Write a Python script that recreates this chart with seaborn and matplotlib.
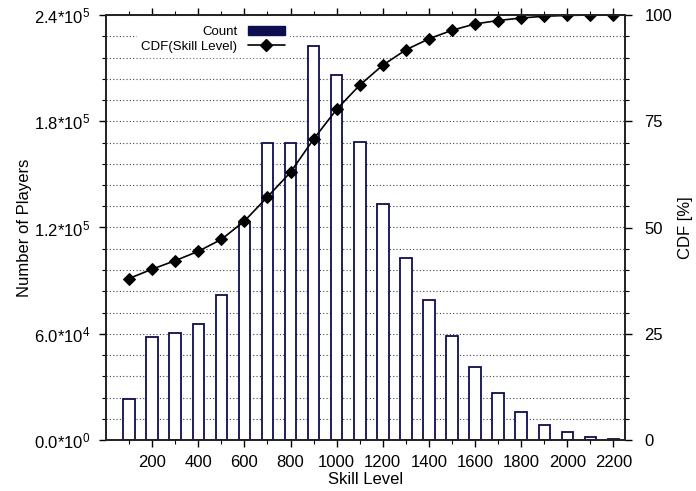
import pandas as pd
import seaborn as sns
import matplotlib.pyplot as plt
from matplotlib.ticker import MultipleLocator, FixedLocator, FuncFormatter
from matplotlib.patches import Patch
from matplotlib.lines import Line2D

sns.set_theme(style="white")
plt.rcParams['font.family'] = ['Liberation Sans', 'DejaVu Sans']
plt.rcParams['mathtext.fontset'] = 'custom'
plt.rcParams['mathtext.rm'] = 'Liberation Sans'
plt.rcParams['mathtext.it'] = 'Liberation Sans'
plt.rcParams['text.color'] = 'black'
plt.rcParams['axes.labelcolor'] = 'black'

# skill level bins
skill = [100, 200, 300, 400, 500, 600, 700, 800, 900, 1000, 1100,
         1200, 1300, 1400, 1500, 1600, 1700, 1800, 1900, 2000, 2100, 2200]
# number of players per bin
count = [23000, 58400, 60400, 65400, 82000, 123200, 167800, 167800,
         222500, 206000, 168200, 133000, 102800, 79100, 58900, 41400,
         26600, 15600, 8700, 4300, 1900, 800]
# CDF in percent
cdf = [38.0, 40.2, 42.2, 44.4, 47.2, 51.5, 57.2, 63.0, 70.8, 77.8, 83.5,
       88.2, 91.8, 94.4, 96.4, 97.9, 98.7, 99.3, 99.7, 99.9, 100.0, 100.0]

df = pd.DataFrame({"skill": skill, "count": count, "cdf": cdf})

navy = "#0d0d50"

fig = plt.figure(figsize=(6.96, 4.91), dpi=100)
ax = fig.add_axes([106 / 696, 1 - 440 / 491, 519 / 696, 425 / 491])

sns.barplot(data=df, x="skill", y="count", native_scale=True, width=0.5,
            color="white", edgecolor=navy, linewidth=1.3, ax=ax)
ax.set_xlim(0, 2250)
ax.set_ylim(0, 240000)

# y ticks like gnuplot: 2.4*10^5
def sci(v, pos):
    if v == 0:
        return r"0.0*10$^{0}$"
    e = len(str(int(v))) - 1
    return r"%.1f*10$^{%d}$" % (v / 10 ** e, e)

ax.yaxis.set_major_locator(MultipleLocator(60000))
ax.yaxis.set_minor_locator(MultipleLocator(12000))
ax.yaxis.set_major_formatter(FuncFormatter(sci))
ax.xaxis.set_major_locator(FixedLocator(list(range(200, 2201, 200))))
ax.xaxis.set_minor_locator(FixedLocator(list(range(100, 2200, 200))))
ax.grid(axis="y", which="both", linestyle=(0, (1, 2)), color="#444444", linewidth=0.8)
ax.set_axisbelow(True)
ax.tick_params(axis="both", which="both", direction="out", labelsize=12, colors="black")
ax.tick_params(axis="x", which="both", top=True, pad=6)
ax.tick_params(axis="y", which="both", pad=6)
ax.tick_params(which="major", length=5, width=1)
ax.tick_params(which="minor", length=3, width=0.8)
ax.tick_params(axis="y", which="both", left=True, right=False)
ax.tick_params(axis="x", which="both", bottom=True)
ax.set_xlabel("Skill Level", fontsize=12, labelpad=1)
ax.set_ylabel("Number of Players", fontsize=12, labelpad=2)
for s in ax.spines.values():
    s.set_color("black")
    s.set_linewidth(1.2)

ax2 = ax.twinx()
sns.lineplot(data=df, x="skill", y="cdf", color="black", marker="D",
             markersize=6, linewidth=1.2, markeredgecolor="black", ax=ax2)
ax2.set_ylim(0, 100)
ax2.set_xlim(0, 2250)
ax2.yaxis.set_major_locator(MultipleLocator(25))
ax2.yaxis.set_minor_locator(MultipleLocator(5))
ax2.tick_params(axis="y", which="both", direction="out", labelsize=12, right=True,
                colors="black", pad=9)
ax2.tick_params(which="major", length=5, width=1)
ax2.tick_params(which="minor", length=3, width=0.8)
ax2.set_ylabel("CDF [%]", fontsize=12, labelpad=4)

handles = [Patch(facecolor=navy, edgecolor=navy),
           Line2D([], [], color="black", marker="D", markersize=6, linewidth=1.2)]
leg = ax2.legend(handles, ["Count", "CDF(Skill Level)"], loc="upper right",
                 bbox_to_anchor=(0.365, 1.0), markerfirst=False, frameon=True,
                 fontsize=9.5, handlelength=2.8, handleheight=0.7,
                 borderpad=0.3, labelspacing=0.2, fancybox=False)
leg.get_frame().set_facecolor("white")
leg.get_frame().set_edgecolor("white")
leg.get_frame().set_alpha(1)

fig.savefig("out.png", dpi=100)
